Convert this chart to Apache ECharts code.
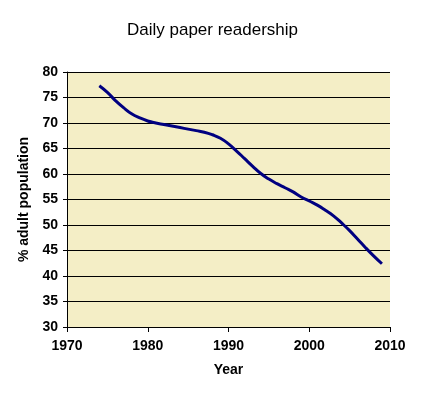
<!DOCTYPE html>
<html>
<head>
<meta charset="utf-8">
<script src="https://cdn.jsdelivr.net/npm/echarts@6/dist/echarts.min.js"></script>
<style>
html,body{margin:0;padding:0;background:#fff;}
#chart{width:425px;height:399px;}
</style>
</head>
<body>
<div id="chart"></div>
<script>
const years = [1974,1975,1976,1977,1978,1979,1980,1981,1982,1983,1984,1985,1986,1987,1988,1989,1990,1991,1992,1993,1994,1995,1996,1997,1998,1999,2000,2001,2002,2003,2004,2005,2006,2007,2008,2009];
const readership = [77.3,76.0,74.4,73.0,71.8,71.0,70.4,70.0,69.7,69.4,69.1,68.8,68.5,68.2,67.7,67.0,65.9,64.5,63.0,61.5,60.1,59.0,58.1,57.3,56.5,55.5,54.7,53.9,52.9,51.8,50.4,48.9,47.2,45.5,43.9,42.4];
const titleText = 'Daily paper readership';
const xName = 'Year';
const yName = '% adult population';

const chart = echarts.init(document.getElementById('chart'));
const font = '"Liberation Sans", Arial, sans-serif';
chart.setOption({
  backgroundColor: '#ffffff',
  animation: false,
  title: {
    text: titleText,
    left: 'center',
    top: 17,
    textStyle: {fontFamily: font, fontSize: 17, fontWeight: 'normal', color: '#000'}
  },
  grid: {
    left: 67, right: 35, top: 72, bottom: 72,
    show: true,
    backgroundColor: '#f4eec6',
    borderWidth: 0
  },
  xAxis: {
    type: 'value',
    min: 1970, max: 2010, interval: 10,
    name: xName,
    nameLocation: 'middle',
    nameGap: 36,
    nameTextStyle: {fontFamily: font, fontSize: 14, fontWeight: 'bold', color: '#000'},
    axisLine: {show: true, onZero: false, lineStyle: {color: '#000', width: 1}},
    axisTick: {show: true, length: 5, lineStyle: {color: '#000'}},
    axisLabel: {fontFamily: font, fontSize: 14, fontWeight: 'bold', color: '#000', margin: 12, formatter: v => String(v)},
    splitLine: {show: false}
  },
  yAxis: {
    type: 'value',
    min: 30, max: 80, interval: 5,
    name: yName,
    nameLocation: 'middle',
    nameGap: 33,
    nameRotate: 90,
    nameTextStyle: {fontFamily: font, fontSize: 14, fontWeight: 'bold', color: '#000'},
    axisLine: {show: true, lineStyle: {color: '#000', width: 1}},
    axisTick: {show: true, length: 4, lineStyle: {color: '#000'}},
    axisLabel: {fontFamily: font, fontSize: 14, fontWeight: 'bold', color: '#000', margin: 9},
    splitLine: {show: true, lineStyle: {color: '#000', width: 1}}
  },
  series: [{
    type: 'line',
    data: years.map((y, i) => [y, readership[i]]),
    smooth: 0.5,
    showSymbol: false,
    lineStyle: {color: '#000080', width: 3}
  }]
});
</script>
</body>
</html>
